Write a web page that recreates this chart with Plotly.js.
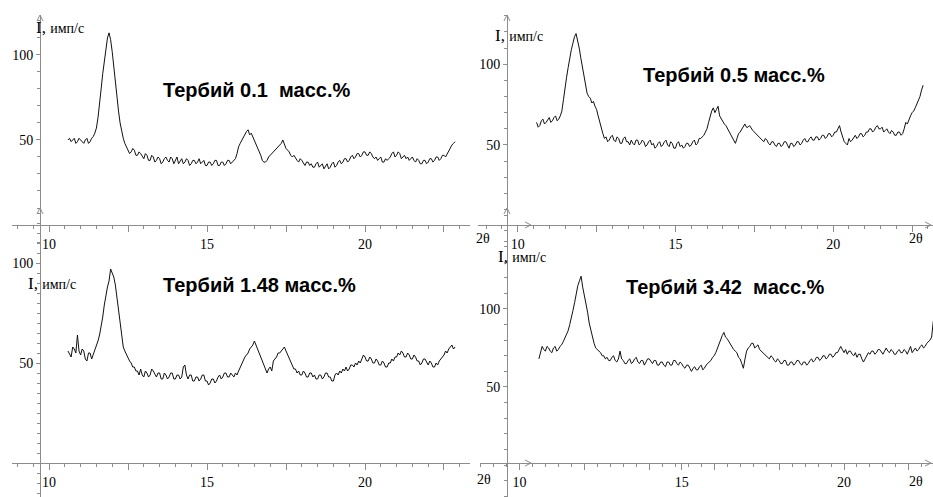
<!DOCTYPE html>
<html><head><meta charset="utf-8">
<script src="https://cdn.plot.ly/plotly-3.0.1.min.js"></script>
<style>html,body{margin:0;padding:0;background:#fff}#chart{width:933px;height:497px}</style>
</head><body><div id="chart"></div>
<script>
// 2θ grid (degrees), step 0.05
const twoTheta = [10.6,10.65,10.7,10.75,10.8,10.85,10.9,10.95,11,11.05,
11.1,11.15,11.2,11.25,11.3,11.35,11.4,11.45,11.5,11.55,
11.6,11.65,11.7,11.75,11.8,11.85,11.9,11.95,12,12.05,
12.1,12.15,12.2,12.25,12.3,12.35,12.4,12.45,12.5,12.55,
12.6,12.65,12.7,12.75,12.8,12.85,12.9,12.95,13,13.05,
13.1,13.15,13.2,13.25,13.3,13.35,13.4,13.45,13.5,13.55,
13.6,13.65,13.7,13.75,13.8,13.85,13.9,13.95,14,14.05,
14.1,14.15,14.2,14.25,14.3,14.35,14.4,14.45,14.5,14.55,
14.6,14.65,14.7,14.75,14.8,14.85,14.9,14.95,15,15.05,
15.1,15.15,15.2,15.25,15.3,15.35,15.4,15.45,15.5,15.55,
15.6,15.65,15.7,15.75,15.8,15.85,15.9,15.95,16,16.05,
16.1,16.15,16.2,16.25,16.3,16.35,16.4,16.45,16.5,16.55,
16.6,16.65,16.7,16.75,16.8,16.85,16.9,16.95,17,17.05,
17.1,17.15,17.2,17.25,17.3,17.35,17.4,17.45,17.5,17.55,
17.6,17.65,17.7,17.75,17.8,17.85,17.9,17.95,18,18.05,
18.1,18.15,18.2,18.25,18.3,18.35,18.4,18.45,18.5,18.55,
18.6,18.65,18.7,18.75,18.8,18.85,18.9,18.95,19,19.05,
19.1,19.15,19.2,19.25,19.3,19.35,19.4,19.45,19.5,19.55,
19.6,19.65,19.7,19.75,19.8,19.85,19.9,19.95,20,20.05,
20.1,20.15,20.2,20.25,20.3,20.35,20.4,20.45,20.5,20.55,
20.6,20.65,20.7,20.75,20.8,20.85,20.9,20.95,21,21.05,
21.1,21.15,21.2,21.25,21.3,21.35,21.4,21.45,21.5,21.55,
21.6,21.65,21.7,21.75,21.8,21.85,21.9,21.95,22,22.05,
22.1,22.15,22.2,22.25,22.3,22.35,22.4,22.45,22.5,22.55,
22.6,22.65,22.7,22.75,22.8,22.85];

// Intensity I, imp/s
const tb01 = [50,51,49,50,51,48,49,51,50,49,
48,50,51,48,49,51,52,54,57,63,
70,80,89,97,104,110,113,109,102,93,
82,74,67,60,55,51,48,46,45,42,
43,45,44,41,41,43,42,40,39,42,
41,38,38,41,40,37,38,40,39,36,
37,39,40,38,37,40,39,36,38,40,
36,38,39,36,37,39,38,35,36,38,
38,36,37,39,36,37,38,35,35,37,
37,35,36,38,38,35,35,37,37,35,
36,38,38,36,37,38,39,42,46,48,
50,52,53,55,56,53,54,52,50,47,
45,43,41,38,37,37,38,40,41,42,
43,44,45,46,47,48,50,47,45,44,
43,41,40,41,39,38,37,39,38,36,
35,37,37,35,36,34,34,36,37,34,
35,36,33,35,36,33,34,36,37,34,
35,37,38,36,37,39,39,37,38,40,
41,39,40,42,42,40,41,43,43,41,
41,43,42,40,39,40,38,39,40,37,
37,39,38,39,40,42,43,40,41,43,
42,39,40,41,39,40,38,39,40,38,
37,39,38,36,36,38,38,36,37,39,
39,37,38,40,40,38,39,41,41,40,
42,44,45,47,48,49];

const tb05 = [64,61,62,65,66,63,64,66,67,64,
65,67,68,65,66,68,71,78,86,92,
98,104,109,113,117,119,115,110,104,98,
92,86,82,80,79,76,77,74,72,68,
64,60,57,54,55,52,53,55,56,53,
52,55,54,51,51,54,55,52,52,50,
53,51,50,53,53,50,51,53,52,49,
50,52,53,50,51,48,49,51,52,49,
50,52,53,50,49,52,51,48,48,51,
52,49,50,48,49,51,51,49,50,52,
53,50,51,54,54,55,56,58,60,64,
68,71,73,70,72,74,68,66,64,63,
62,60,58,57,55,53,51,54,57,58,
60,62,63,61,61,62,60,59,58,57,
56,55,54,53,52,54,53,51,50,52,
52,50,49,51,51,49,50,52,52,50,
48,51,51,49,50,52,52,50,51,53,
54,52,52,54,55,53,53,55,55,53,
54,56,56,54,55,57,57,55,56,58,
58,60,62,58,55,52,51,50,54,52,
53,55,56,54,55,57,57,55,56,58,
58,60,60,58,59,61,62,60,60,61,
58,59,60,58,57,59,58,56,56,58,
58,56,57,60,64,63,66,68,70,71,
73,75,78,80,84,87];

const tb148 = [56,54,53,58,57,55,64,56,54,57,
56,52,51,55,55,52,54,56,58,61,
64,68,73,79,84,88,91,97,95,93,
89,83,76,69,63,58,56,54,53,51,
50,48,48,46,46,44,47,44,43,46,
45,43,44,47,46,44,43,45,45,42,
42,45,44,42,43,45,45,42,42,44,
44,42,43,48,49,44,42,44,44,41,
41,43,43,41,42,44,44,41,41,39,
40,42,42,40,41,43,44,42,43,45,
45,43,43,45,44,43,45,44,46,48,
49,51,53,54,55,57,58,59,61,59,
57,54,52,50,48,46,45,47,48,46,
51,52,53,55,55,56,57,58,56,54,
52,50,49,47,47,45,46,44,44,46,
45,43,43,45,45,43,44,42,42,44,
44,42,43,45,45,43,43,41,41,44,
45,44,46,45,47,46,48,46,47,49,
49,48,50,49,51,50,52,54,53,51,
51,53,52,50,50,52,51,49,49,51,
50,48,48,50,50,52,51,53,53,55,
54,56,55,53,53,55,54,52,52,54,
53,51,51,49,50,52,52,50,49,51,
50,48,48,50,49,51,52,53,54,56,
55,57,58,59,57,58];

const tb342 = [68,72,76,74,73,76,75,73,72,75,
76,73,74,76,77,79,81,84,86,90,
94,99,104,110,115,118,121,114,109,104,
98,91,86,81,78,75,74,73,72,70,
70,68,69,67,67,69,70,67,66,68,
73,68,67,65,65,67,68,65,66,68,
69,66,65,67,67,64,66,68,68,66,
65,67,67,64,64,66,66,64,63,66,
66,64,64,67,67,65,64,66,65,63,
62,64,64,62,60,62,63,61,61,63,
64,61,62,64,65,66,67,69,70,72,
75,77,80,83,85,82,81,79,77,76,
74,73,72,69,68,65,62,68,73,75,
76,78,78,75,76,77,74,73,72,71,
70,69,68,70,69,67,66,68,67,65,
65,67,67,64,64,66,66,64,65,67,
67,65,64,66,66,64,65,67,68,66,
67,69,69,67,68,70,70,68,69,71,
71,69,70,72,72,74,76,74,72,74,
71,73,73,71,70,72,69,71,71,68,
66,68,70,72,71,73,73,71,72,74,
74,72,71,73,75,73,72,74,73,71,
71,73,74,72,72,74,73,71,74,76,
72,74,75,73,74,76,77,75,76,78,
79,80,82,92,94,96];

const panelTitles = ['Тербий 0.1\u00a0\u00a0масс.%', 'Тербий 0.5 масс.%', 'Тербий 1.48 масс.%', 'Тербий 3.42\u00a0\u00a0масс.%'];
const xTickVals125 = [10, 12.5, 15, 17.5, 20, 22.5];
const xTickText125 = ['10', '', '15', '', '20', ''];
const xTickVals2 = [10, 12, 14, 15, 16, 18, 20, 22];
const xTickText2 = ['10', '', '', '15', '', '', '20', ''];
const yTickVals = [50, 100];
const yTickText = ['50', '100'];
const yLabel = 'I, <span style="font-size:14px">имп/с</span>';
const xLabel = '2θ';

const W = 933, H = 497;
const fx = v => v / W;
const fy = v => 1 - v / H;
const AX = '#8c8c8c';
const tickFont = {family: 'Liberation Serif, Times New Roman, serif', size: 14, color: '#000'};

function xAxis(l, r, range, posY, vals, text, minorDt) {
  return {domain: [fx(l), fx(r)], range: range, anchor: 'free', position: fy(posY),
    showline: true, linecolor: AX, linewidth: 1, ticks: 'outside', ticklen: 6, tickwidth: 1, tickcolor: AX,
    tickmode: 'array', tickvals: vals, ticktext: text, tickfont: tickFont,
    showgrid: false, zeroline: false, fixedrange: true,
    minor: {dtick: minorDt, tick0: 10, ticks: 'outside', ticklen: 3, tickcolor: AX, showgrid: false}};
}
function yAxis(top, bottom, range, posX, minorDt) {
  return {domain: [fy(bottom), fy(top)], range: range, anchor: 'free', position: fx(posX),
    showline: true, linecolor: AX, linewidth: 1, ticks: 'outside', ticklen: 4, tickwidth: 1, tickcolor: AX,
    tickmode: 'array', tickvals: yTickVals, ticktext: yTickText, tickfont: tickFont,
    showgrid: false, zeroline: false, fixedrange: true,
    minor: {dtick: minorDt, tick0: 0, ticks: 'outside', ticklen: 3, tickcolor: AX, showgrid: false}};
}

const lineStyle = {color: '#111', width: 1};
const data = [
  {x: twoTheta, y: tb01, xaxis: 'x', yaxis: 'y', mode: 'lines', line: lineStyle},
  {x: twoTheta, y: tb05, xaxis: 'x2', yaxis: 'y2', mode: 'lines', line: lineStyle},
  {x: twoTheta, y: tb148, xaxis: 'x3', yaxis: 'y3', mode: 'lines', line: lineStyle},
  {x: twoTheta, y: tb342, xaxis: 'x4', yaxis: 'y4', mode: 'lines', line: lineStyle}
];

function ann(text, x, y, size, family, anchor) {
  return {text: text, xref: 'paper', yref: 'paper', x: fx(x), y: fy(y), xanchor: anchor || 'left', yanchor: 'middle',
    showarrow: false, font: {family: family, size: size, color: '#000'}};
}
const serif = 'Liberation Serif, Times New Roman, serif';
const sans = 'Liberation Sans, Arial, sans-serif';
const annotations = [
  ann('<b>' + panelTitles[0] + '</b>', 161, 90, 20, sans),
  ann('<b>' + panelTitles[1] + '</b>', 641, 75, 20, sans),
  ann('<b>' + panelTitles[2] + '</b>', 161, 285, 20, sans),
  ann('<b>' + panelTitles[3] + '</b>', 624, 287, 20, sans),
  ann(yLabel, 34, 27, 17, serif),
  ann(yLabel, 493, 35, 17, serif),
  ann(yLabel, 26, 283, 17, serif),
  ann(yLabel, 496, 256, 17, serif),
  ann(xLabel, 483, 238, 14, serif, 'center'),
  ann(xLabel, 916, 239, 14, serif, 'center'),
  ann(xLabel, 484, 479, 14, serif, 'center'),
  ann(xLabel, 916, 481, 14, serif, 'center')
];

function path(pts) {
  return pts.map((p, i) => (i ? 'L' : 'M') + fx(p[0]).toFixed(5) + ',' + fy(p[1]).toFixed(5)).join(' ');
}
function chevUp(cx, cy) { return {type: 'path', xref: 'paper', yref: 'paper', path: path([[cx - 3, cy + 6], [cx, cy], [cx + 3, cy + 6]]), line: {color: AX, width: 1}}; }
function chevRight(cx, cy) { return {type: 'path', xref: 'paper', yref: 'paper', path: path([[cx - 6, cy - 3], [cx, cy], [cx - 6, cy + 3]]), line: {color: AX, width: 1}}; }
const shapes = [chevUp(40, 15), chevUp(40, 208), chevUp(507, 15), chevUp(507, 208),
  chevRight(531, 225), chevRight(931, 225), chevRight(531, 463), chevRight(931, 463)];

const layout = {
  width: W, height: H, margin: {l: 0, r: 0, t: 0, b: 0},
  paper_bgcolor: '#fff', plot_bgcolor: 'rgba(0,0,0,0)', showlegend: false,
  xaxis: xAxis(12, 470, [8.829, 23.323], 225, xTickVals125, xTickText125, 0.5),
  yaxis: yAxis(15, 250, [-14.7, 123.5], 40, 10),
  xaxis2: xAxis(478, 933, [8.742, 23.163], 225, xTickVals125, xTickText125, 0.5),
  yaxis2: yAxis(15, 250, [-15.06, 130.5], 507, 10),
  xaxis3: xAxis(12, 470, [8.829, 23.323], 463, xTickVals125, xTickText125, 0.5),
  yaxis3: yAxis(208, 497, [-17, 127.5], 40, 5),
  xaxis4: xAxis(480, 933, [8.786, 22.742], 463, xTickVals2, xTickText2, 0.4),
  yaxis4: yAxis(208, 497, [-20.5, 164.7], 507, 10),
  annotations: annotations, shapes: shapes
};
Plotly.newPlot('chart', data, layout, {displayModeBar: false, staticPlot: true});
</script>
</body></html>
